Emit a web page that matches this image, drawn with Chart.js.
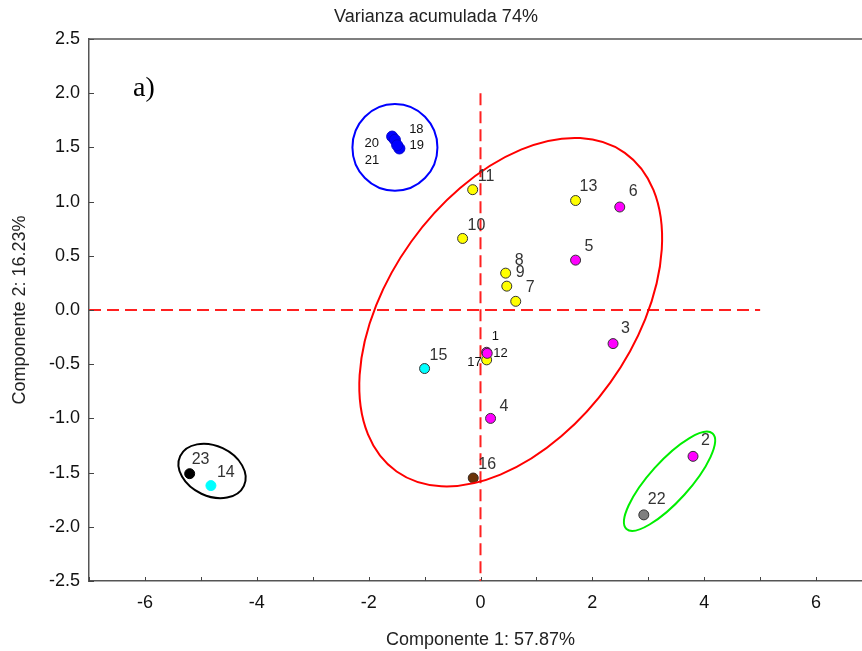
<!DOCTYPE html>
<html>
<head>
<meta charset="utf-8">
<script src="https://cdn.jsdelivr.net/npm/chart.js@4.4.1/dist/chart.umd.min.js"></script>
<style>
html, body { margin: 0; padding: 0; overflow: hidden; background: #fff; width: 862px; height: 651px; }
canvas { display: block; }
</style>
</head>
<body>
<canvas id="graficoPCA" width="886" height="651"></canvas>
<script>
// puntos del biplot (componente 1, componente 2)
const pointIds = ['1','2','3','4','5','6','7','8','9','10','11','12','13','14','15','16','17','18','19','20','21','22','23'];
const comp1 = [0.11, 3.80, 2.37, 0.18, 1.70, 2.49, 0.63, 0.45, 0.47, -0.32, -0.14, 0.12, 1.70, -4.82, -1.00, -0.13, 0.11, -1.58, -1.45, -1.53, -1.49, 2.92, -5.20];
const comp2 = [-0.39, -1.35, -0.31, -1.00, 0.46, 0.95, 0.08, 0.34, 0.22, 0.66, 1.11, -0.40, 1.01, -1.62, -0.54, -1.55, -0.46, 1.60, 1.49, 1.57, 1.52, -1.89, -1.51];
const pointGroup = ['magenta','magenta','magenta','magenta','magenta','magenta','yellow','yellow','yellow','yellow','yellow','magenta','yellow','cyanClaro','cyan','brown','yellow','blue','blue','blue','blue','grey','black'];

// lineas discontinuas de referencia
const lineaHorizontal = [[-7, 0], [5, 0]];
const lineaVertical = [[0, 2.0], [0, -2.5]];

// elipses: centro y dos semiejes conjugados (en unidades de los ejes)
const ellipseCenters = [[0.54, -0.02], [-1.53, 1.50], [-4.80, -1.485], [3.38, -1.58]];
const ellipseAxisU = [[2.04, 1.47], [0.76, 0], [0.57, -0.137], [0.77, 0.44]];
const ellipseAxisV = [[1.78, -0.65], [0, 0.40], [-0.19, -0.21], [0.265, -0.124]];
const ellipseColors = ['#ff0000', '#0000ff', '#000000', '#00ee00'];

const xTicksMin = -7, xTicksMax = 7;
const yTicksMin = -2.5, yTicksMax = 2.5;

const groupStyles = {
    magenta:   { fill: '#ff00ff', border: '#333333', r: 5 },
    yellow:    { fill: '#ffff00', border: '#333333', r: 5 },
    cyan:      { fill: '#00ffff', border: '#333333', r: 5 },
    cyanClaro: { fill: '#00ffff', border: '#00ffff', r: 5 },
    brown:     { fill: '#6b3308', border: '#3a2a20', r: 5 },
    blue:      { fill: '#0000ff', border: '#0000cc', r: 5.5 },
    grey:      { fill: '#7f7f7f', border: '#333333', r: 5 },
    black:     { fill: '#000000', border: '#000000', r: 5 }
};

// donde va cada etiqueta respecto al punto (px)
const labelPlace = {
    '1':  { dx: 5, dy: -16, small: true },
    '12': { dx: 6, dy: 0, small: true },
    '17': { dx: -5, dy: 3, small: true, right: true },
    '18': { dx: 17, dy: -7, small: true },
    '19': { dx: 10, dy: -3, small: true },
    '20': { dx: -16, dy: 4, small: true, right: true },
    '21': { dx: -18, dy: 15, small: true, right: true },
    '2':  { dx: 8, dy: -16 }, '3': { dx: 8, dy: -15 }, '4': { dx: 9, dy: -12 },
    '5':  { dx: 9, dy: -14 }, '6': { dx: 9, dy: -15 }, '7': { dx: 10, dy: -14 },
    '8':  { dx: 9, dy: -13 }, '9': { dx: 9, dy: -14 }, '13': { dx: 4, dy: -14 },
    '23': { dx: 2, dy: -14 }, '22': { dx: 4, dy: -15 }, '14': { dx: 6, dy: -13 }
};

const FONT = "'Liberation Sans', Arial, sans-serif";

function buildDatasets() {
    const grupos = Object.keys(groupStyles);
    const sets = [];
    grupos.forEach(g => {
        const st = groupStyles[g];
        const data = [], ids = [];
        pointIds.forEach((id, i) => {
            if (pointGroup[i] === g) {
                data.push({ x: comp1[i], y: comp2[i] });
                ids.push(id);
            }
        });
        sets.push({
            type: 'scatter',
            data: data,
            ids: ids,
            backgroundColor: st.fill,
            borderColor: st.border,
            borderWidth: 1,
            pointRadius: st.r,
            order: 1
        });
    });
    [lineaHorizontal, lineaVertical].forEach(l => {
        sets.push({
            type: 'line',
            data: l.map(p => ({ x: p[0], y: p[1] })),
            borderColor: '#ff2020',
            borderWidth: 2,
            borderDash: [12, 6],
            pointRadius: 0,
            fill: false,
            order: 5
        });
    });
    return sets;
}

const ellipsesPlugin = {
    id: 'elipses',
    afterDatasetsDraw(chart) {
        const { ctx, scales: { x, y } } = chart;
        const sx = x.getPixelForValue(1) - x.getPixelForValue(0);
        const sy = y.getPixelForValue(0) - y.getPixelForValue(1);
        ellipseCenters.forEach((c, i) => {
            const u = ellipseAxisU[i], v = ellipseAxisV[i];
            ctx.save();
            ctx.translate(x.getPixelForValue(c[0]), y.getPixelForValue(c[1]));
            ctx.transform(u[0] * sx, -u[1] * sy, v[0] * sx, -v[1] * sy, 0, 0);
            ctx.beginPath();
            ctx.arc(0, 0, 1, 0, Math.PI * 2);
            ctx.restore();
            ctx.save();
            ctx.strokeStyle = ellipseColors[i];
            ctx.lineWidth = 2;
            ctx.stroke();
            ctx.restore();
        });
    }
};

const labelsPlugin = {
    id: 'etiquetas',
    afterDatasetsDraw(chart) {
        const ctx = chart.ctx;
        ctx.save();
        ctx.textBaseline = 'middle';
        chart.data.datasets.forEach((ds, di) => {
            if (!ds.ids) return;
            const meta = chart.getDatasetMeta(di);
            meta.data.forEach((el, j) => {
                const id = ds.ids[j];
                const p = labelPlace[id] || { dx: 5, dy: -13 };
                ctx.font = (p.small ? '13px ' : '16px ') + FONT;
                ctx.fillStyle = p.small ? '#111' : '#333';
                ctx.textAlign = p.right ? 'right' : 'left';
                ctx.fillText(id, el.x + p.dx, el.y + p.dy);
            });
        });
        // letra del panel
        const a = chart.chartArea;
        ctx.font = "28px 'Liberation Serif', 'Times New Roman', serif";
        ctx.fillStyle = '#000';
        ctx.textAlign = 'left';
        ctx.fillText('a)', a.left + 44, a.top + 50);
        ctx.restore();
    }
};

const frameTicksPlugin = {
    id: 'marcas',
    afterDraw(chart) {
        const { ctx, chartArea: a, scales: { x, y } } = chart;
        ctx.save();
        ctx.strokeStyle = '#444';
        ctx.lineWidth = 1;
        ctx.beginPath();
        x.ticks.forEach((t, i) => {
            const px = Math.round(x.getPixelForTick(i)) + 0.5;
            ctx.moveTo(px, a.bottom);
            ctx.lineTo(px, a.bottom - 4);
        });
        y.ticks.forEach((t, i) => {
            const py = Math.round(y.getPixelForTick(i)) + 0.5;
            ctx.moveTo(a.left, py);
            ctx.lineTo(a.left + 5, py);
        });
        ctx.stroke();
        ctx.strokeStyle = '#555';
        ctx.lineWidth = 1.5;
        ctx.beginPath();
        ctx.moveTo(a.left, a.top);
        ctx.lineTo(a.right + 20, a.top);
        ctx.stroke();
        ctx.restore();
    }
};

window.addEventListener('DOMContentLoaded', () => {
    const ctx = document.getElementById('graficoPCA').getContext('2d');
    new Chart(ctx, {
        type: 'scatter',
        data: { datasets: buildDatasets() },
        options: {
            responsive: false,
            animation: false,
            layout: { padding: { left: 0, right: 14, top: 0, bottom: 0 } },
            plugins: {
                legend: { display: false },
                tooltip: { enabled: false },
                title: {
                    display: true,
                    text: 'Varianza acumulada 74%',
                    color: '#222',
                    font: { family: FONT, size: 18, weight: 'normal' },
                    padding: { top: 6, bottom: 11.4 }
                }
            },
            scales: {
                x: {
                    type: 'linear',
                    min: xTicksMin,
                    max: xTicksMax,
                    afterFit: s => { s.height = 70; },
                    grid: { display: false, drawTicks: false },
                    border: { display: true, color: '#555', width: 1.5 },
                    ticks: {
                        stepSize: 1,
                        autoSkip: false,
                        maxRotation: 0,
                        padding: 11,
                        color: '#111',
                        font: { family: FONT, size: 18 },
                        callback: v => (v % 2 === 0 ? String(v) : '')
                    },
                    title: {
                        display: true,
                        text: 'Componente 1: 57.87%',
                        color: '#222',
                        font: { family: FONT, size: 18 },
                        padding: { top: 4.2, bottom: 0 }
                    }
                },
                y: {
                    type: 'linear',
                    min: yTicksMin,
                    max: yTicksMax,
                    afterFit: s => { s.width = 89; },
                    grid: { display: false, drawTicks: false },
                    border: { display: true, color: '#555', width: 1.5 },
                    ticks: {
                        stepSize: 0.5,
                        padding: 9,
                        color: '#111',
                        font: { family: FONT, size: 18 },
                        callback: v => Number(v).toFixed(1)
                    },
                    title: {
                        display: true,
                        text: 'Componente 2: 16.23%',
                        color: '#222',
                        font: { family: FONT, size: 18 },
                        padding: { top: 9.2, bottom: 0 }
                    }
                }
            }
        },
        plugins: [ellipsesPlugin, labelsPlugin, frameTicksPlugin]
    });
});
</script>
</body>
</html>
